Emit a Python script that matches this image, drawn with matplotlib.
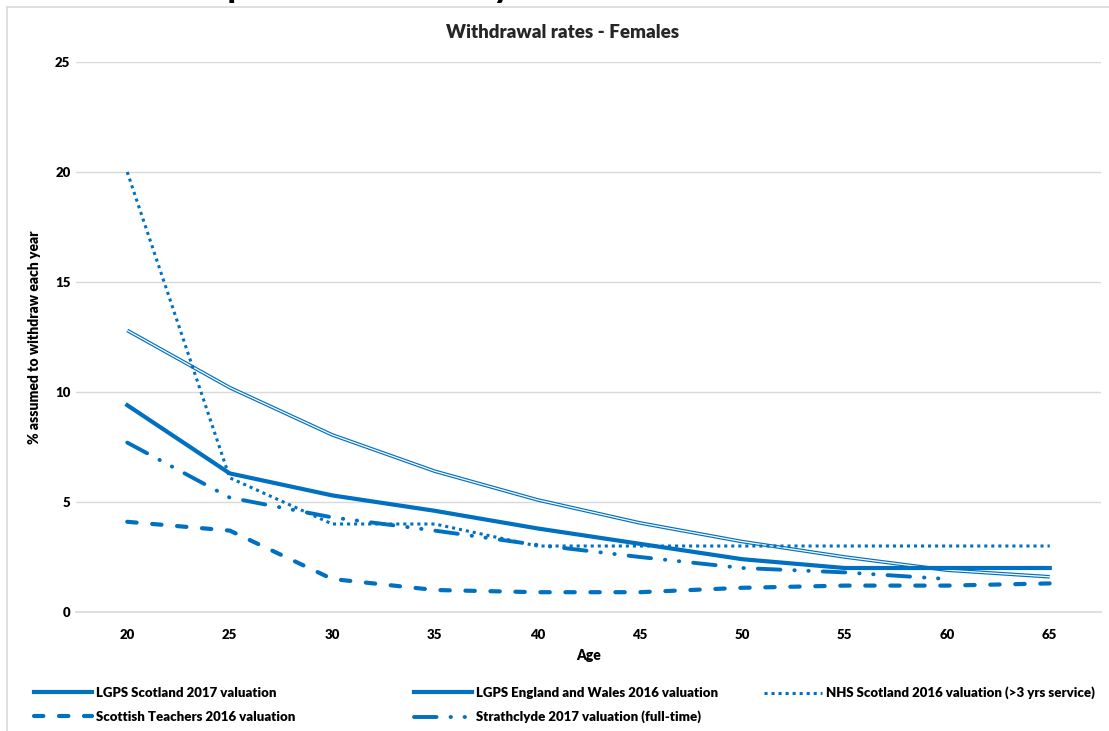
import matplotlib
matplotlib.use("Agg")
import matplotlib.pyplot as plt
from matplotlib.lines import Line2D
import numpy as np

plt.rcParams['font.family'] = ['Lato', 'DejaVu Sans']
WT = 'heavy'

ages = [20, 25, 30, 35, 40, 45, 50, 55, 60, 65]
lgps_scotland = [12.8, 10.2, 8.05, 6.4, 5.1, 4.05, 3.2, 2.5, 1.9, 1.6]
lgps_england = [9.4, 6.3, 5.3, 4.6, 3.8, 3.1, 2.4, 2.0, 2.0, 2.0]
nhs_scotland = [20.0, 6.1, 4.0, 4.0, 3.0, 3.0, 3.0, 3.0, 3.0, 3.0]
teachers = [4.1, 3.7, 1.5, 1.0, 0.9, 0.9, 1.1, 1.2, 1.2, 1.3]
strathclyde = [7.7, 5.2, 4.3, 3.7, 3.05, 2.5, 2.0, 1.8, 1.5, np.nan]

labels = ["LGPS Scotland 2017 valuation",
          "LGPS England and Wales 2016 valuation",
          "NHS Scotland 2016 valuation (>3 yrs service)",
          "Scottish Teachers 2016 valuation",
          "Strathclyde 2017 valuation (full-time)"]

BLUE = "#0070C0"
W, H = 1109, 731
fig = plt.figure(figsize=(W / 100, H / 100), dpi=100)

ax = fig.add_axes([76 / W, (H - 612) / H, 1025 / W, 550 / H])
ax.set_xlim(17.5, 67.5)
ax.set_ylim(0, 25)
ax.set_yticks([0, 5, 10, 15, 20, 25])
ax.set_xticks(ages)
ax.grid(axis='y', color='#D9D9D9', lw=1)
ax.set_axisbelow(True)
for s in ['top', 'right', 'left']:
    ax.spines[s].set_visible(False)
ax.spines['bottom'].set_color('#D9D9D9')
ax.spines['bottom'].set_linewidth(1.2)
ax.tick_params(length=0, labelsize=9.5)
ax.tick_params(axis='x', pad=12)
ax.tick_params(axis='y', pad=4)
for t in ax.get_xticklabels() + ax.get_yticklabels():
    t.set_fontweight(WT)

# LGPS Scotland: double (compound) line
ax.plot(ages, lgps_scotland, color=BLUE, lw=2.6, solid_capstyle='butt')
ax.plot(ages, lgps_scotland, color='white', lw=0.9, solid_capstyle='butt')
h1 = Line2D([], [], color=BLUE, lw=3)
l2, = ax.plot(ages, lgps_england, color=BLUE, lw=3)
l3, = ax.plot(ages, nhs_scotland, color=BLUE, lw=2.2, linestyle=(0, (1.0, 1.3)),
              dash_capstyle='butt')
l4, = ax.plot(ages, teachers, color=BLUE, lw=3.0, linestyle=(0, (2.25, 3.75)),
              dash_capstyle='round')
l5, = ax.plot(ages, strathclyde, color=BLUE, lw=2.8,
              linestyle=(0, (5.8, 3.6, 0.1, 3.5, 0.1, 3.6)), dash_capstyle='round')

ax.set_xlabel("Age", fontsize=10, fontweight=WT, labelpad=6)
ax.set_ylabel("% assumed to withdraw each year", fontsize=10, fontweight=WT,
              labelpad=10)
fig.text(563 / W, 1 - 33 / H, "Withdrawal rates - Females", ha='center', va='center',
         fontsize=13.5, fontweight=WT, color='#262626')

# clipped heading above chart
fig.text(48 / W, 1 + 2 / H, "Chart 4: Comparison of Voluntary Withdrawal Rates - Females",
         ha='left', va='baseline', fontsize=22, fontweight=WT, color='black')

# chart area border
fig.add_artist(Line2D([7 / W, 7 / W], [0, 1 - 7 / H], transform=fig.transFigure,
                      color='#D9D9D9', lw=1.2))
fig.add_artist(Line2D([7 / W, 1], [1 - 7 / H, 1 - 7 / H], transform=fig.transFigure,
                      color='#D9D9D9', lw=1.2))

# legend entries
handles = [h1, l2, l3, l4, l5]
positions = [(22, 693), (402, 693), (752, 693), (22, 717), (402, 717)]
for hnd, lab, (px, py) in zip(handles, labels, positions):
    fig.legend(handles=[hnd], labels=[lab], loc='center left',
               bbox_to_anchor=(px / W, 1 - py / H), frameon=False,
               handlelength=4.4, handletextpad=0.3,
               prop={'weight': WT, 'size': 9.5, 'family': ['Lato', 'DejaVu Sans']})

fig.savefig("out.png", dpi=100)
